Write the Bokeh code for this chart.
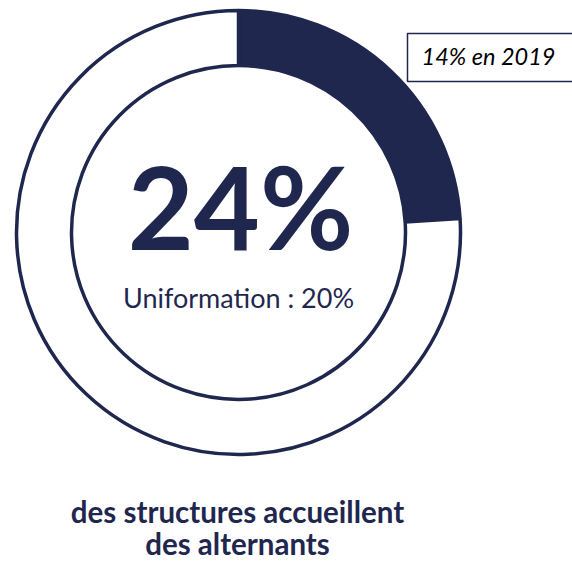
import math
from bokeh.plotting import figure
from bokeh.models import Range1d
from bokeh.core.properties import value
from bokeh.embed import file_html
from bokeh.resources import INLINE

# ---- data ----
categories = ["Structures accueillant des alternants", "Autres"]
shares = [24, 76]
main_label = "24%"
benchmark_label = "Uniformation : 20%"
previous_label = "14% en 2019"
caption_lines = ["des structures accueillent", "des alternants"]

NAVY = "#1f274f"
W, H = 572, 562

p = figure(width=W, height=H, x_range=Range1d(0, W), y_range=Range1d(0, H),
           min_border=0, toolbar_location=None, output_backend="svg",
           x_axis_type=None, y_axis_type=None)
p.grid.visible = False
p.outline_line_color = None
p.background_fill_color = "white"

cx, cy = 238, 330
r_out, r_in = 222, 167

total = float(sum(shares))
starts, ends = [], []
cum = 0.0
for v in shares:
    a0 = math.pi / 2 - 2 * math.pi * (cum + v) / total
    a1 = math.pi / 2 - 2 * math.pi * cum / total
    starts.append(a0)
    ends.append(a1)
    cum += v
fills = [NAVY, "white"]

p.annular_wedge(x=[cx] * len(shares), y=[cy] * len(shares),
                inner_radius=r_in, outer_radius=r_out,
                start_angle=starts, end_angle=ends,
                fill_color=fills, line_color=NAVY, line_width=3.5)

# box with previous year
p.quad(left=[407], right=[576], top=[529], bottom=[481],
       fill_color="white", line_color=NAVY, line_width=1.5)
p.text(x=[488], y=[506.5], text=[previous_label], text_font=value("Lato"),
       text_font_style="italic", text_font_size="23.5px", text_color="black",
       text_align="center", text_baseline="alphabetic")

# center texts
p.text(x=[240], y=[357], text=[main_label], text_font=value("Lato"),
       text_font_style="bold", text_font_size="114px", text_color=NAVY,
       text_align="center", text_baseline="alphabetic")
p.text(x=[238], y=[265], text=[benchmark_label], text_font=value("Lato"),
       text_font_size="27px", text_color=NAVY,
       text_align="center", text_baseline="alphabetic")

# caption
p.text(x=[237, 237], y=[51, 19], text=caption_lines, text_font=value("Lato"),
       text_font_style="bold", text_font_size="29.5px", text_color=NAVY,
       text_align="center", text_baseline="alphabetic")

open("out.html", "w").write(file_html(p, INLINE))
